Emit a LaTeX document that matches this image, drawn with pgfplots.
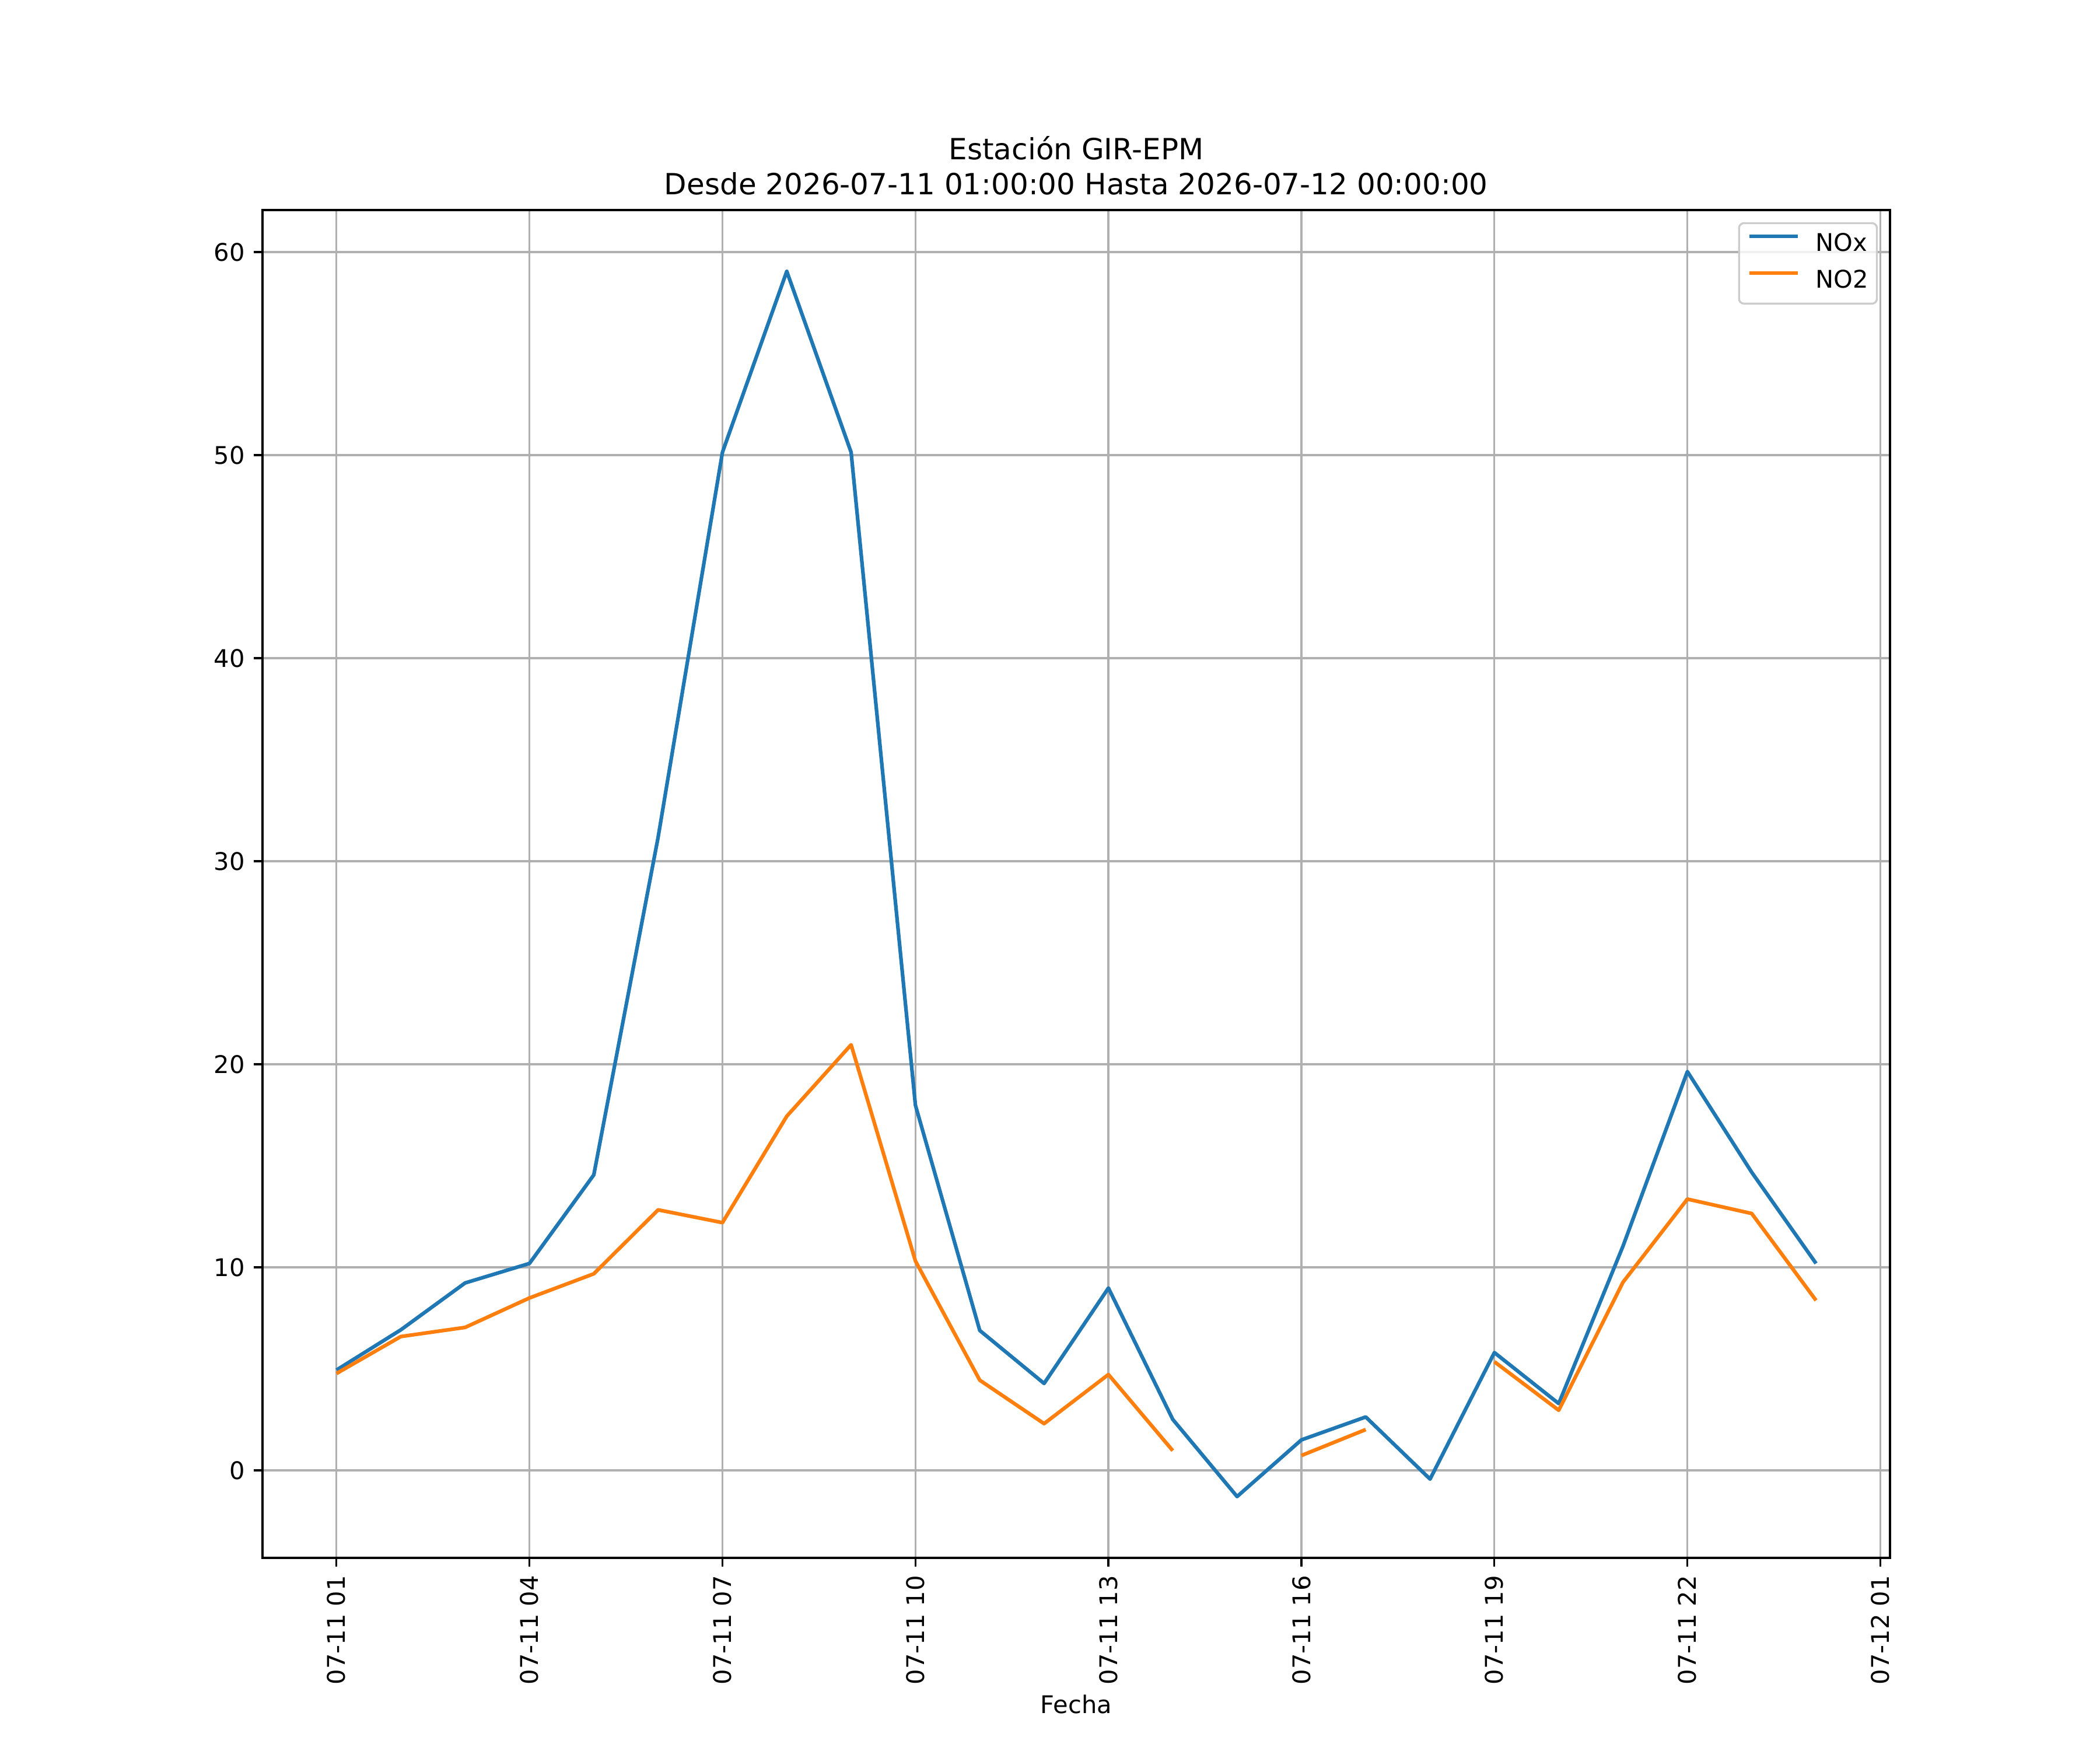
\documentclass[border=0pt]{standalone}
\usepackage{fontspec}
\setmainfont{DejaVu Sans}
\usepackage{pgfplots}
\pgfplotsset{compat=1.18}
\usepackage{pgfplotstable}
\definecolor{tabblue}{HTML}{1F77B4}
\definecolor{taborange}{HTML}{FF7F0E}
\definecolor{gridgray}{HTML}{B0B0B0}
\definecolor{legendgray}{HTML}{CCCCCC}

\pgfplotstableread{
h nox no2
1 4.94 4.77
2 6.92 6.59
3 9.23 7.04
4 10.19 8.49
5 14.55 9.68
6 31.18 12.83
7 50.14 12.20
8 59.05 17.44
9 50.14 20.96
10 17.98 10.31
11 6.89 4.44
12 4.28 2.30
13 8.98 4.72
14 2.51 0.97
15 -1.29 nan
16 1.50 0.73
17 2.63 2.01
18 -0.43 nan
19 5.80 5.35
20 3.29 2.96
21 11.05 9.27
22 19.64 13.36
23 14.68 12.65
24 10.19 8.37
}\datatable

\begin{document}
\begin{tikzpicture}
\path[use as bounding box] (-108pt,-79.2pt) rectangle (756pt,640.8pt);
\begin{axis}[
  at={(0pt,0pt)}, anchor=south west,
  scale only axis,
  width=669.6pt, height=554.4pt,
  xmin=-0.15, xmax=25.15,
  ymin=-4.31, ymax=62.07,
  xtick={1,4,7,10,13,16,19,22,25},
  xticklabels={07-11 01,07-11 04,07-11 07,07-11 10,07-11 13,07-11 16,07-11 19,07-11 22,07-12 01},
  ytick={0,10,20,30,40,50,60},
  xtick pos=left, ytick pos=left,
  tick align=outside,
  major tick length=3.5pt,
  tick style={black, line width=0.8pt},
  axis line style={black, line width=0.8pt},
  grid=major,
  major grid style={gridgray, line width=0.8pt},
  /pgf/number format/assume math mode=true,
  ticklabel style={font=\fontsize{10}{12}\selectfont},
  xticklabel style={rotate=90, anchor=east, inner sep=0pt, xshift=-3.5pt},
  yticklabel style={anchor=east, inner sep=0pt, xshift=-3.5pt},
  xlabel={Fecha},
  xlabel style={font=\fontsize{10}{12}\selectfont, inner sep=0pt, yshift=-4pt},
  title={Estación GIR-EPM\\Desde 2026-07-11 01:00:00 Hasta 2026-07-12 00:00:00},
  title style={at={(0.5,1)}, anchor=south, align=center, inner sep=0pt,
    font=\fontsize{12}{14.4}\selectfont},
  unbounded coords=jump,
  legend cell align=left,
  legend image code/.code={\draw[#1, line width=1.5pt] (0pt,3.6pt) -- (20pt,3.6pt);},
  legend style={at={(rel axis cs:1,1)}, anchor=north east, xshift=-5pt, yshift=-5pt,
    draw=legendgray, line width=0.8pt, rounded corners=2pt,
    fill=white, fill opacity=0.8, text opacity=1,
    font=\fontsize{10}{12}\selectfont,
    inner xsep=3.5pt, inner ysep=4pt, row sep=5.1pt,
    nodes={inner sep=0pt, text height=7.5pt, text depth=2.5pt},
    /tikz/every odd column/.append style={column sep=6.5pt}},
]
\addplot[tabblue, line width=1.5pt, line join=round] table[x=h, y=nox] {\datatable};
\addlegendentry{NOx}
\addplot[taborange, line width=1.5pt, line join=round] table[x=h, y=no2] {\datatable};
\addlegendentry{NO2}
\end{axis}
\end{tikzpicture}
\end{document}
